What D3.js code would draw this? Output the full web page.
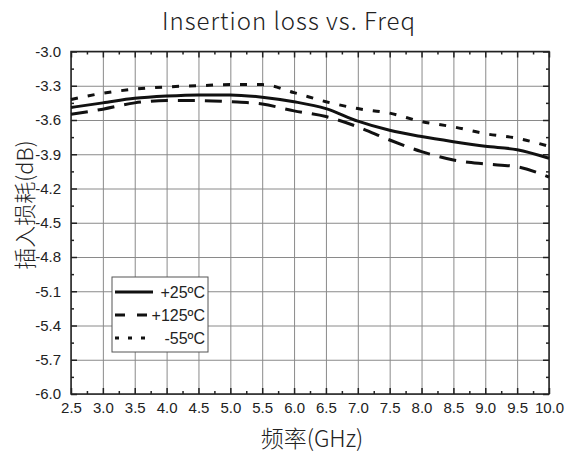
<!DOCTYPE html>
<html>
<head>
<meta charset="utf-8">
<script src="https://cdn.jsdelivr.net/npm/d3@7"></script>
<style>
  body { margin: 0; background: #fff; }
  svg { display: block; }
</style>
</head>
<body>
<svg id="chart" width="569" height="455"></svg>
<script>
const freq = [2.5, 3.0, 3.5, 4.0, 4.5, 5.0, 5.5, 6.0, 6.5, 7.0, 7.5, 8.0, 8.5, 9.0, 9.5, 10.0];
const loss25 = [-3.49, -3.45, -3.41, -3.39, -3.38, -3.38, -3.40, -3.44, -3.50, -3.61, -3.69, -3.745, -3.79, -3.83, -3.86, -3.935];
const loss125 = [-3.55, -3.505, -3.45, -3.43, -3.43, -3.44, -3.46, -3.52, -3.57, -3.66, -3.775, -3.877, -3.95, -3.985, -4.01, -4.10];
const lossM55 = [-3.42, -3.365, -3.33, -3.31, -3.30, -3.29, -3.29, -3.36, -3.44, -3.50, -3.54, -3.614, -3.66, -3.72, -3.76, -3.83];
const xTicks = [2.5, 3.0, 3.5, 4.0, 4.5, 5.0, 5.5, 6.0, 6.5, 7.0, 7.5, 8.0, 8.5, 9.0, 9.5, 10.0];
const yTicks = [-3.0, -3.3, -3.6, -3.9, -4.2, -4.5, -4.8, -5.1, -5.4, -5.7, -6.0];

const series = [
  { name: "+25\u00BAC", values: loss25, dash: null },
  { name: "+125\u00BAC", values: loss125, dash: "17,10" },
  { name: "-55\u00BAC", values: lossM55, dash: "7,10" },
];

const svg = d3.select("#chart");
const plotLeft = 71, plotRight = 549, plotTop = 51.5, plotBottom = 394;

const x = d3.scaleLinear().domain([2.5, 10]).range([plotLeft, plotRight]);
const y = d3.scaleLinear().domain([-6, -3]).range([plotBottom, plotTop]);

const fontTick = "Liberation Sans, Arial, sans-serif";
const fmt = d => d.toFixed(1); // plain hyphen minus, like the original

// gridlines
svg.append("g")
  .attr("transform", `translate(0,${plotBottom})`)
  .call(d3.axisBottom(x).tickValues(xTicks).tickFormat("").tickSize(-(plotBottom - plotTop)))
  .call(g => g.select(".domain").remove())
  .call(g => g.selectAll("line").attr("stroke", "#8a8a8a").attr("stroke-width", 1));
svg.append("g")
  .attr("transform", `translate(${plotLeft},0)`)
  .call(d3.axisLeft(y).tickValues(yTicks).tickFormat("").tickSize(-(plotRight - plotLeft)))
  .call(g => g.select(".domain").remove())
  .call(g => g.selectAll("line").attr("stroke", "#8a8a8a").attr("stroke-width", 1));

// minor tick values
const xMinor = xTicks.slice(0, -1).map(v => v + 0.25);
const yMinor = yTicks.slice(0, -1).map(v => v - 0.15);

function inwardTicks(axisFn, scale, vals, size, transform) {
  svg.append("g")
    .attr("transform", transform)
    .call(axisFn(scale).tickValues(vals).tickFormat("").tickSizeInner(size).tickSizeOuter(0))
    .call(g => g.select(".domain").remove())
    .call(g => g.selectAll("line").attr("stroke", "#222").attr("stroke-width", 1.5));
}
// bottom (ticks pointing up), top (pointing down), left (pointing right), right (pointing left)
inwardTicks(d3.axisTop, x, xTicks, 6, `translate(0,${plotBottom})`);
inwardTicks(d3.axisTop, x, xMinor, 3, `translate(0,${plotBottom})`);
inwardTicks(d3.axisBottom, x, xTicks, 6, `translate(0,${plotTop})`);
inwardTicks(d3.axisBottom, x, xMinor, 3, `translate(0,${plotTop})`);
inwardTicks(d3.axisRight, y, yTicks, 6, `translate(${plotLeft},0)`);
inwardTicks(d3.axisRight, y, yMinor, 3, `translate(${plotLeft},0)`);
inwardTicks(d3.axisLeft, y, yTicks, 6, `translate(${plotRight},0)`);
inwardTicks(d3.axisLeft, y, yMinor, 3, `translate(${plotRight},0)`);

// tick labels
svg.append("g")
  .attr("transform", `translate(0,${plotBottom})`)
  .call(d3.axisBottom(x).tickValues(xTicks).tickFormat(fmt).tickSize(0).tickPadding(8))
  .attr("font-family", fontTick).attr("font-size", 15)
  .call(g => g.select(".domain").remove())
  .call(g => g.selectAll("text").attr("fill", "#222"));
svg.append("g")
  .attr("transform", `translate(${plotLeft},0)`)
  .call(d3.axisLeft(y).tickValues(yTicks).tickFormat(fmt).tickSize(0).tickPadding(10))
  .attr("font-family", fontTick).attr("font-size", 15)
  .call(g => g.select(".domain").remove())
  .call(g => g.selectAll("text").attr("fill", "#222"));

// frame
svg.append("rect")
  .attr("x", plotLeft).attr("y", plotTop)
  .attr("width", plotRight - plotLeft).attr("height", plotBottom - plotTop)
  .attr("fill", "none").attr("stroke", "#222").attr("stroke-width", 1.5);

// lines
const line = d3.line()
  .x((d, i) => x(freq[i]))
  .y(d => y(d))
  .curve(d3.curveMonotoneX);

svg.append("g")
  .selectAll("path")
  .data(series)
  .join("path")
  .attr("d", d => line(d.values))
  .attr("fill", "none")
  .attr("stroke", "#111")
  .attr("stroke-width", 3)
  .attr("stroke-dasharray", d => d.dash);

// legend
const lg = svg.append("g");
lg.append("rect")
  .attr("x", 112).attr("y", 277).attr("width", 96).attr("height", 75)
  .attr("fill", "#fff").attr("stroke", "#555").attr("stroke-width", 1);
const legendDash = [null, "10,12", "4,9"];
series.forEach((s, i) => {
  const yy = 292 + i * 23;
  lg.append("line")
    .attr("x1", 115).attr("x2", 153).attr("y1", yy).attr("y2", yy)
    .attr("stroke", "#111").attr("stroke-width", 3)
    .attr("stroke-dasharray", legendDash[i]);
  lg.append("text")
    .attr("x", 205).attr("y", yy + 5.5)
    .attr("text-anchor", "end")
    .attr("font-family", fontTick).attr("font-size", 16).attr("fill", "#222")
    .text(s.name);
});

// title and axis titles
svg.append("text")
  .attr("x", 289).attr("y", 30)
  .attr("text-anchor", "middle")
  .attr("font-family", "Noto Sans CJK SC, Noto Sans, sans-serif")
  .attr("font-weight", 300)
  .attr("font-size", 24).attr("letter-spacing", 1).attr("fill", "#222")
  .text("Insertion loss vs. Freq");

svg.append("text")
  .attr("x", 312).attr("y", 447)
  .attr("text-anchor", "middle")
  .attr("font-family", "Noto Sans CJK SC, sans-serif")
  .attr("font-weight", 300)
  .attr("font-size", 23).attr("fill", "#222")
  .text("频率(GHz)");

svg.append("text")
  .attr("transform", "translate(33,205) rotate(-90)")
  .attr("text-anchor", "middle")
  .attr("font-family", "Noto Sans CJK SC, sans-serif")
  .attr("font-weight", 300)
  .attr("font-size", 22).attr("fill", "#222")
  .text("插入损耗(dB)");
</script>
</body>
</html>
